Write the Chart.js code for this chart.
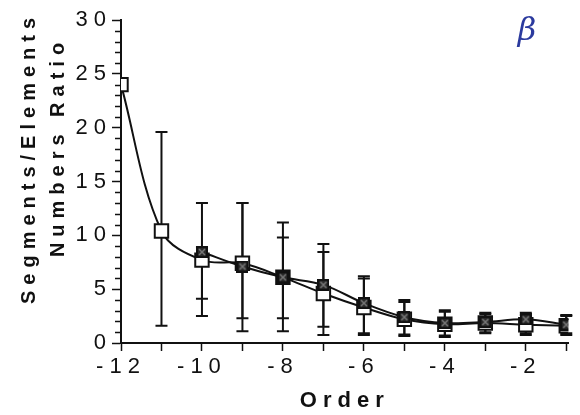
<!DOCTYPE html>
<html>
<head>
<meta charset="utf-8">
<title>Segments/Elements Numbers Ratio</title>
<script src="https://cdn.jsdelivr.net/npm/chart.js@4.4.1/dist/chart.umd.min.js"></script>
<style>
    html, body { margin: 0; padding: 0; background: #fff; }
    #wrap { width: 580px; height: 415px; }
</style>
</head>
<body>
<div id="wrap"><canvas id="dataChart"></canvas></div>
<script>
// Order (x axis)
const orders = [-12, -11, -10, -9, -8, -7, -6, -5, -4, -3, -2, -1];

// Ratio, open squares
const ratioA = [24, 10.4, 7.7, 7.4, 6.1, 4.6, 3.3, 2.2, 1.75, 1.85, 1.7, 1.6];
const lowA   = [null, 1.6, 2.5, 1.1, 1.1, 0.74, 0.74, 0.65, 0.55, 0.9, 0.74, 0.74];
const highA  = [null, 19.6, 13.0, 13.0, 11.2, 9.2, 6.2, 4.0, 3.05, 2.8, 2.8, 2.6];

// Ratio, filled squares
const ratioB = [null, null, 8.45, 7.1, 6.1, 5.4, 3.7, 2.4, 1.85, 1.95, 2.2, 1.7];
const lowB   = [null, null, 4.1, 2.3, 2.3, 1.5, 0.9, 0.8, 0.7, 1.0, 0.9, 0.9];
const highB  = [null, null, 8.9, 13.0, 9.8, 8.45, 6.0, 3.8, 2.9, 2.7, 2.6, 2.5];

const yTicks = [0, 5, 10, 15, 20, 25, 30];

const FONT = '"Liberation Sans", Arial, Helvetica, sans-serif';
const INK = '#111';

// marker for the second series: dark square with light cross
const markB = document.createElement('canvas');
markB.width = 12; markB.height = 12;
(() => {
    const c = markB.getContext('2d');
    c.fillStyle = '#2a2a2a';
    c.fillRect(0, 0, 12, 12);
    c.strokeStyle = '#777';
    c.lineWidth = 1.5;
    c.beginPath();
    c.moveTo(3, 3); c.lineTo(9, 9);
    c.moveTo(9, 3); c.lineTo(3, 9);
    c.stroke();
    c.strokeStyle = '#111';
    c.lineWidth = 2;
    c.strokeRect(1, 1, 10, 10);
})();

const toPoints = arr => orders.map((o, i) => ({ x: o, y: arr[i] }));

// Все надписи с разрядкой, как в оригинале
const spacing = {
    id: 'spacing',
    beforeDraw(chart) { chart.ctx.letterSpacing = '6px'; }
};

// Планки погрешностей
const errorBars = {
    id: 'errorBars',
    beforeDatasetsDraw(chart) {
        const { ctx, scales: { x, y } } = chart;
        ctx.save();
        ctx.strokeStyle = INK;
        ctx.lineWidth = 2;
        const draw = (lows, highs) => {
            orders.forEach((o, i) => {
                if (lows[i] == null) return;
                const px = x.getPixelForValue(o);
                const top = y.getPixelForValue(highs[i]);
                const bot = y.getPixelForValue(lows[i]);
                ctx.beginPath();
                ctx.moveTo(px, top); ctx.lineTo(px, bot);
                ctx.moveTo(px - 6, top); ctx.lineTo(px + 6, top);
                ctx.moveTo(px - 6, bot); ctx.lineTo(px + 6, bot);
                ctx.stroke();
            });
        };
        draw(lowA, highA);
        draw(lowB, highB);
        ctx.restore();
    },
    afterDraw(chart) {
        const { ctx, scales: { y } } = chart;
        // minor ticks on y
        ctx.save();
        ctx.strokeStyle = INK;
        ctx.lineWidth = 1.5;
        ctx.beginPath();
        for (let v = 1; v < 30; v++) {
            if (v % 5 === 0) continue;
            const py = Math.round(y.getPixelForValue(v)) + 0.5;
            ctx.moveTo(y.right - 6, py);
            ctx.lineTo(y.right, py);
        }
        ctx.stroke();

        // y title, two lines
        ctx.fillStyle = INK;
        ctx.font = 'bold 20px ' + FONT;
        ctx.textAlign = 'center';
        ctx.textBaseline = 'middle';
        ctx.letterSpacing = '6px';
        ctx.save();
        ctx.translate(29, 161);
        ctx.rotate(-Math.PI / 2);
        ctx.fillText('Segments/Elements', 3, 0);
        ctx.restore();
        ctx.save();
        ctx.translate(58, 150);
        ctx.rotate(-Math.PI / 2);
        ctx.fillText('Numbers Ratio', 3, 0);
        ctx.restore();

        // handwritten mark
        ctx.letterSpacing = '0px';
        ctx.fillStyle = '#2b3a9e';
        ctx.font = 'italic 32px "DejaVu Serif", serif';
        ctx.fillText('β', 527, 32);
        ctx.restore();
    }
};

const ctx = document.getElementById('dataChart').getContext('2d');
new Chart(ctx, {
    type: 'line',
    data: {
        datasets: [
            {
                label: 'A',
                data: toPoints(ratioA),
                order: 2,
                borderColor: INK,
                borderWidth: 2,
                tension: 0.35,
                pointStyle: 'rect',
                pointRadius: 9.5,
                pointBorderWidth: 2,
                pointBorderColor: INK,
                pointBackgroundColor: '#fff'
            },
            {
                label: 'B',
                data: toPoints(ratioB),
                order: 1,
                borderColor: INK,
                borderWidth: 2,
                tension: 0.35,
                pointStyle: markB,
                pointRadius: 6
            }
        ]
    },
    options: {
        responsive: true,
        maintainAspectRatio: false,
        animation: false,
        layout: { padding: { top: 20, right: 1, left: 0, bottom: 0 } },
        plugins: {
            legend: { display: false },
            tooltip: { enabled: false }
        },
        scales: {
            x: {
                type: 'linear',
                min: -12,
                max: -0.945,
                afterFit: s => { s.height = 72; },
                border: { color: INK, width: 2 },
                grid: { drawOnChartArea: false, tickLength: 8, tickColor: INK, tickWidth: 1.5 },
                ticks: {
                    stepSize: 1,
                    includeBounds: false,
                    maxRotation: 0,
                    autoSkip: false,
                    padding: 3,
                    color: INK,
                    font: { family: FONT, size: 22 },
                    callback: v => (v % 2 === 0 ? String(v) : '')
                },
                title: {
                    display: true,
                    text: 'Order',
                    color: INK,
                    font: { family: FONT, size: 22, weight: 'bold' },
                    padding: { top: 0, bottom: 1 }
                }
            },
            y: {
                min: 0,
                max: 30,
                afterFit: s => { s.width = 121; },
                afterBuildTicks: s => { s.ticks = yTicks.map(v => ({ value: v })); },
                border: { color: INK, width: 2 },
                grid: { drawOnChartArea: false, tickLength: 9, tickColor: INK, tickWidth: 1.5 },
                ticks: {
                    padding: 0,
                    color: INK,
                    font: { family: FONT, size: 22 }
                }
            }
        }
    },
    plugins: [spacing, errorBars]
});
</script>
</body>
</html>
